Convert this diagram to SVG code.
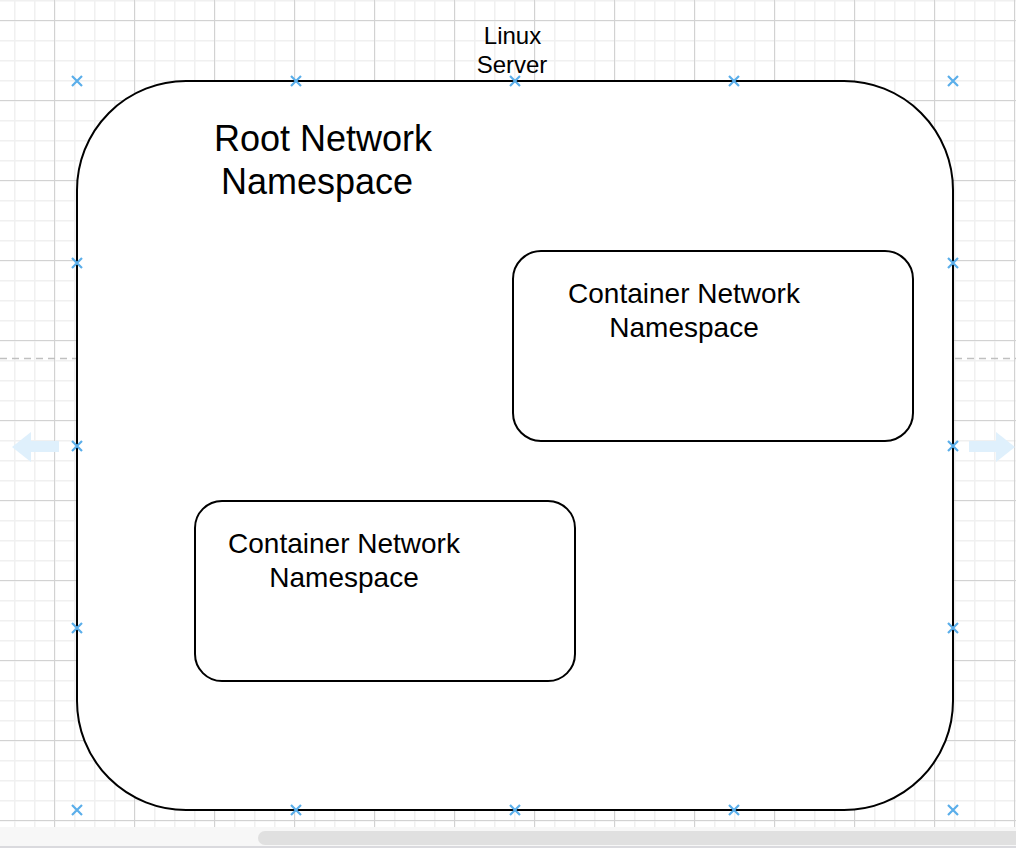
<svg xmlns="http://www.w3.org/2000/svg" xmlns:xlink="http://www.w3.org/1999/xlink" width="1016" height="848" viewBox="0 0 1016 848">
<style>
.box{fill:#ffffff;stroke:#000000;stroke-width:2}
.t{font-family:"Liberation Sans",Arial,sans-serif;fill:#000000;text-anchor:middle}
.mk{stroke:#5aaeea;stroke-width:2.2;fill:none}
.ar{fill:#dff0fc}
</style>
<defs>
<pattern id="minor" patternUnits="userSpaceOnUse" x="14" y="0" width="20" height="20">
<path d="M0.5 0V20M0 0.5H20" stroke="#f0f0f0" stroke-width="2" fill="none"/>
</pattern>
<pattern id="major" patternUnits="userSpaceOnUse" x="54" y="20" width="80" height="80">
<path d="M0.5 0V80M0 0.5H80" stroke="#d2d2d2" stroke-width="1" fill="none"/>
</pattern>
<path id="x" class="mk" d="M-5 -5L5 5M-5 5L5 -5"/>
</defs>
<g id="background">
<rect x="0" y="0" width="1016" height="848" fill="#ffffff"/>
<rect x="0" y="0" width="1016" height="827" fill="url(#minor)"/>
<rect x="0" y="0" width="1016" height="827" fill="url(#major)"/>
<path d="M0 358.5H76M955 358.5H1016" stroke="#c0c0c0" stroke-width="1.5" stroke-dasharray="7 5" fill="none"/>
<rect x="0" y="827" width="1016" height="19" fill="#f7f7f7"/>
<rect x="258" y="831" width="770" height="14" rx="7" fill="#e0e0e0"/>
<rect x="0" y="846" width="1016" height="2" fill="#dadade"/>
<path class="ar" d="M12 447L31 432V441H59V452H31V462Z"/>
<path class="ar" d="M1015 447L996 432V441H969V452H996V462Z"/>
</g>
<g id="linux-server">
<rect class="box" x="77" y="81" width="876" height="729" rx="109" ry="109"/>
<text class="t" font-size="24"><tspan x="512.5" y="44">Linux</tspan><tspan x="512" y="73">Server</tspan></text>
</g>
<g id="root-namespace">
<text class="t" font-size="36"><tspan x="323" y="151">Root Network</tspan><tspan x="317" y="194">Namespace</tspan></text>
</g>
<g id="container-ns-1">
<rect class="box" x="513" y="251" width="400" height="190" rx="28" ry="28"/>
<text class="t" font-size="28"><tspan x="684" y="303">Container Network</tspan><tspan x="684" y="337">Namespace</tspan></text>
</g>
<g id="container-ns-2">
<rect class="box" x="195" y="501" width="380" height="180" rx="27" ry="27"/>
<text class="t" font-size="28"><tspan x="344" y="553">Container Network</tspan><tspan x="344" y="587">Namespace</tspan></text>
</g>
<g id="connectors"></g>
<g id="handles">
<use xlink:href="#x" x="77" y="81"/><use xlink:href="#x" x="296" y="81"/><use xlink:href="#x" x="515" y="81"/><use xlink:href="#x" x="734" y="81"/><use xlink:href="#x" x="953" y="81"/>
<use xlink:href="#x" x="77" y="263"/><use xlink:href="#x" x="953" y="263"/>
<use xlink:href="#x" x="77" y="446"/><use xlink:href="#x" x="953" y="446"/>
<use xlink:href="#x" x="77" y="628"/><use xlink:href="#x" x="953" y="628"/>
<use xlink:href="#x" x="77" y="810"/><use xlink:href="#x" x="296" y="810"/><use xlink:href="#x" x="515" y="810"/><use xlink:href="#x" x="734" y="810"/><use xlink:href="#x" x="953" y="810"/>
</g>
</svg>
